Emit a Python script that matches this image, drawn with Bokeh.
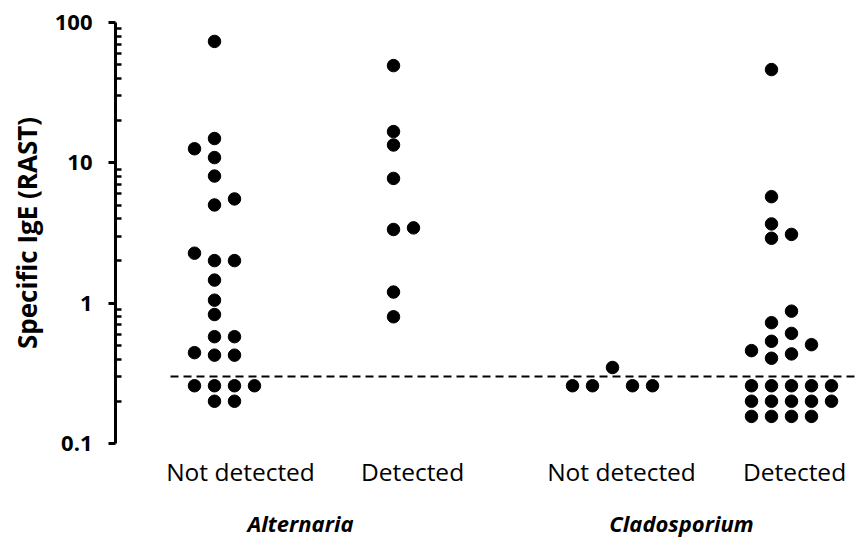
from bokeh.plotting import figure
from bokeh.models import Range1d, FixedTicker, LinearAxis, CustomJSTickFormatter, ColumnDataSource
from bokeh.embed import file_html
from bokeh.resources import INLINE

# ---- data ----
categories = ["Not detected", "Detected", "Not detected", "Detected"]
groups = ["Alternaria", "Cladosporium"]
threshold = 0.3

# values (specific IgE) and their dot-column slot within each category
alt_not_vals = [73.3, 14.9, 12.6, 10.9, 8.05, 5.53, 5.01, 2.27, 2.01, 2.01, 1.46, 1.05, 0.83,
                0.577, 0.577, 0.444, 0.426, 0.426, 0.258, 0.258, 0.258, 0.258, 0.20, 0.20]
alt_not_slot = [0, 0, -1, 0, 0, 1, 0, -1, 0, 1, 0, 0, 0,
                0, 1, -1, 0, 1, -1, 0, 1, 2, 0, 1]
alt_det_vals = [49.3, 16.7, 13.4, 7.74, 3.35, 3.44, 1.20, 0.80]
alt_det_slot = [0, 0, 0, 0, 0, 1, 0, 0]
cla_not_vals = [0.258, 0.258, 0.348, 0.258, 0.258]
cla_not_slot = [-2, -1, 0, 1, 2]
cla_det_vals = [46.2, 5.74, 3.67, 2.90, 3.09, 0.877, 0.726, 0.609, 0.535, 0.506, 0.459, 0.435, 0.405,
                0.258, 0.258, 0.258, 0.258, 0.258,
                0.20, 0.20, 0.20, 0.20, 0.20,
                0.156, 0.156, 0.156, 0.156]
cla_det_slot = [-1, -1, -1, -1, 0, 0, -1, 0, -1, 1, -2, 0, -1,
                -2, -1, 0, 1, 2,
                -2, -1, 0, 1, 2,
                -2, -1, 0, 1]

# layout positions in x units (1 unit = one dot column)
cat_label_pos = [6.25, 14.85, 25.3, 33.95]
cat_dot_base = [4.95, 13.9, 24.85, 33.8]
group_pos = [9.25, 28.3]
x_end = 37.15
line_start = 2.75

xs, ys = [], []
for base, vals, slots in zip(cat_dot_base,
                             [alt_not_vals, alt_det_vals, cla_not_vals, cla_det_vals],
                             [alt_not_slot, alt_det_slot, cla_not_slot, cla_det_slot]):
    for v, s in zip(vals, slots):
        xs.append(base + s)
        ys.append(v)
src = ColumnDataSource(dict(x=xs, y=ys))

FONT = "Open Sans"

p = figure(width=858, height=540, output_backend="svg", toolbar_location=None,
           y_axis_type="log", x_range=Range1d(0, x_end), y_range=Range1d(0.1, 100),
           min_border_left=115, min_border_top=22, min_border_right=0, min_border_bottom=95)
p.outline_line_color = None
p.grid.visible = False
p.background_fill_color = "white"
p.border_fill_color = "white"

p.line([line_start, x_end], [threshold, threshold], line_color="black", line_width=2,
       line_dash="8 5")
p.scatter("x", "y", source=src, size=12.5, color="black")

# y axis
yax = p.yaxis[0]
minor = [m * 10 ** k for k in (-1, 0, 1) for m in range(2, 10)]
yax.ticker = FixedTicker(ticks=[0.1, 1, 10, 100], minor_ticks=minor)
yax.formatter = CustomJSTickFormatter(code="return tick >= 1 ? tick.toFixed(0) : tick.toString();")
yax.axis_line_width = 3
yax.major_tick_line_width = 3
yax.minor_tick_line_width = 2.5
yax.major_tick_out = 7
yax.major_tick_in = 0
yax.minor_tick_in = 6
yax.minor_tick_out = 0
yax.major_label_standoff = 16
yax.major_label_text_font = FONT
yax.major_label_text_font_style = "bold"
yax.major_label_text_font_size = "22px"
yax.major_label_text_color = "black"
yax.axis_label = "Specific IgE (RAST)"
yax.axis_label_text_font = FONT
yax.axis_label_text_font_style = "bold"
yax.axis_label_text_font_size = "26px"
yax.axis_label_text_color = "black"
yax.axis_label_standoff = 7

# x axis (categories)
xax = p.xaxis[0]
xax.ticker = FixedTicker(ticks=cat_label_pos)
xax.major_label_overrides = {pos: lab for pos, lab in zip(cat_label_pos, categories)}
xax.axis_line_color = None
xax.major_tick_line_color = None
xax.minor_tick_line_color = None
xax.major_label_standoff = 5
xax.major_label_text_font = FONT
xax.major_label_text_font_size = "24.5px"
xax.major_label_text_color = "black"

# group axis
gax = LinearAxis(ticker=FixedTicker(ticks=group_pos),
                 major_label_overrides={pos: lab for pos, lab in zip(group_pos, groups)})
gax.axis_line_color = None
gax.major_tick_line_color = None
gax.minor_tick_line_color = None
gax.major_label_standoff = 11
gax.major_label_text_font = FONT
gax.major_label_text_font_style = "bold italic"
gax.major_label_text_font_size = "22px"
gax.major_label_text_color = "black"
p.add_layout(gax, "below")

open("out.html", "w").write(file_html(p, INLINE))
